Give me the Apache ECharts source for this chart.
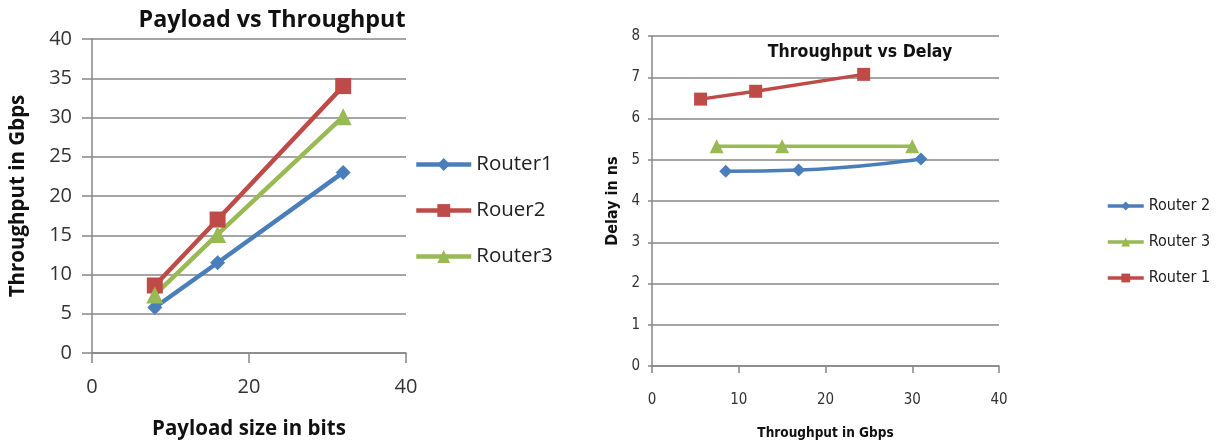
<!DOCTYPE html>
<html>
<head>
<meta charset="utf-8">
<script src="https://cdn.jsdelivr.net/npm/echarts@6/dist/echarts.min.js"></script>
<style>html,body{margin:0;padding:0;background:#fff}#c{width:1216px;height:445px}</style>
</head>
<body>
<div id="c"></div>
<script>
// Left chart: Payload vs Throughput
const payloadX = [8, 16, 32];
const router1Thr = [5.8, 11.5, 23];
const rouer2Thr = [8.6, 17, 34];
const router3Thr = [7.4, 15.1, 30.1];
const leftXTicks = [0, 20, 40];
const leftYTicks = [0, 5, 10, 15, 20, 25, 30, 35, 40];

// Right chart: Throughput vs Delay
const r2ThrX = [8.5, 16.9, 31.0];
const r2Delay = [4.72, 4.75, 5.02];
const r3ThrX = [7.45, 15.0, 30.0];
const r3Delay = [5.33, 5.33, 5.33];
const r1ThrX = [5.6, 11.95, 24.4];
const r1Delay = [6.47, 6.66, 7.07];
const rightXTicks = [0, 10, 20, 30, 40];
const rightYTicks = [0, 1, 2, 3, 4, 5, 6, 7, 8];

const BLUE = '#4a7ebb', RED = '#be4b48', GREEN = '#98b954';
const GRID = '#878787';
const zip = (xs, ys) => xs.map((x, i) => [x, ys[i]]);

const chart = echarts.init(document.getElementById('c'), null, {renderer: 'canvas'});
const fontL = "'Open Sans', sans-serif";
const fontR = "'Liberation Sans Narrow', 'DejaVu Sans Condensed', sans-serif";

function axisCommon(gridIndex, min, max, interval, fontSize, font, margin, tickLen) {
  return {
    type: 'value', gridIndex, min, max, interval,
    axisLine: {show: true, lineStyle: {color: GRID, width: 1.5}},
    axisTick: {show: true, length: tickLen, lineStyle: {color: GRID, width: 1.5}},
    splitLine: {show: false},
    axisLabel: {fontSize, fontFamily: font, color: '#333', margin}
  };
}

const option = {
  animation: false,
  backgroundColor: '#fff',
  title: [
    {text: 'Payload vs Throughput', left: 267, top: 4, textAlign: 'center',
     textStyle: {fontSize: 23.3, fontWeight: 'bold', fontFamily: fontL, color: '#111'}},
    {text: 'Throughput vs Delay', left: 855, top: 38, textAlign: 'center',
     textStyle: {fontSize: 17.5, fontWeight: 'bold', fontFamily: fontR, color: '#111'}}
  ],
  legend: [
    {orient: 'vertical', left: 409, top: 149, itemGap: 25, itemWidth: 55, itemHeight: 16,
     data: ['Router1', 'Rouer2', 'Router3'],
     lineStyle: {width: 4.5},
     textStyle: {fontSize: 20.5, fontFamily: fontL, color: '#222'}},
    {orient: 'vertical', left: 1101, top: 193, itemGap: 20, itemWidth: 36, itemHeight: 11,
     data: ['Router 2', 'Router 3', 'Router 1'],
     lineStyle: {width: 3.5},
     textStyle: {fontSize: 16, fontFamily: fontR, color: '#222'}}
  ],
  grid: [
    {left: 92, top: 39, width: 314, height: 315},
    {left: 652, top: 36, width: 347, height: 335}
  ],
  xAxis: [
    Object.assign(axisCommon(0, leftXTicks[0], leftXTicks[leftXTicks.length - 1], 20, 20, fontL, 24, 10), {
      name: 'Payload size in bits', nameLocation: 'middle', nameGap: 66,
      nameTextStyle: {fontSize: 20.5, fontWeight: 'bold', fontFamily: fontL, color: '#111'}
    }),
    Object.assign(axisCommon(1, rightXTicks[0], rightXTicks[rightXTicks.length - 1], 10, 15, fontR, 27, 7), {
      name: 'Throughput in Gbps', nameLocation: 'middle', nameGap: 60,
      nameTextStyle: {fontSize: 13.5, fontWeight: 'bold', fontFamily: fontR, color: '#111'}
    })
  ],
  yAxis: [
    Object.assign(axisCommon(0, leftYTicks[0], leftYTicks[leftYTicks.length - 1], 5, 20, fontL, 20, 10), {
      splitLine: {show: true, lineStyle: {color: GRID, width: 1.5}},
      name: 'Throughput in Gbps', nameLocation: 'middle', nameGap: 63,
      nameTextStyle: {fontSize: 20.5, fontWeight: 'bold', fontFamily: fontL, color: '#111'}
    }),
    Object.assign(axisCommon(1, rightYTicks[0], rightYTicks[rightYTicks.length - 1], 1, 15, fontR, 12, 4), {
      splitLine: {show: true, lineStyle: {color: GRID, width: 1.5}},
      name: 'Delay in ns', nameLocation: 'middle', nameGap: 31,
      nameTextStyle: {fontSize: 16, fontWeight: 'bold', fontFamily: fontR, color: '#111'}
    })
  ],
  series: [
    {name: 'Router1', type: 'line', xAxisIndex: 0, yAxisIndex: 0, data: zip(payloadX, router1Thr),
     symbol: 'diamond', symbolSize: 15, color: BLUE, lineStyle: {width: 4.5}},
    {name: 'Rouer2', type: 'line', xAxisIndex: 0, yAxisIndex: 0, data: zip(payloadX, rouer2Thr),
     symbol: 'rect', symbolSize: 16, color: RED, lineStyle: {width: 4.5}},
    {name: 'Router3', type: 'line', xAxisIndex: 0, yAxisIndex: 0, data: zip(payloadX, router3Thr),
     symbol: 'triangle', symbolSize: 17, color: GREEN, lineStyle: {width: 4.5}},
    {name: 'Router 2', type: 'line', xAxisIndex: 1, yAxisIndex: 1, data: zip(r2ThrX, r2Delay),
     symbol: 'diamond', symbolSize: 13, color: BLUE, smooth: true, lineStyle: {width: 3.5}},
    {name: 'Router 3', type: 'line', xAxisIndex: 1, yAxisIndex: 1, data: zip(r3ThrX, r3Delay),
     symbol: 'triangle', symbolSize: 14, color: GREEN, lineStyle: {width: 3.5}},
    {name: 'Router 1', type: 'line', xAxisIndex: 1, yAxisIndex: 1, data: zip(r1ThrX, r1Delay),
     symbol: 'rect', symbolSize: 13, color: RED, lineStyle: {width: 3.5}}
  ]
};
chart.setOption(option);
</script>
</body>
</html>
